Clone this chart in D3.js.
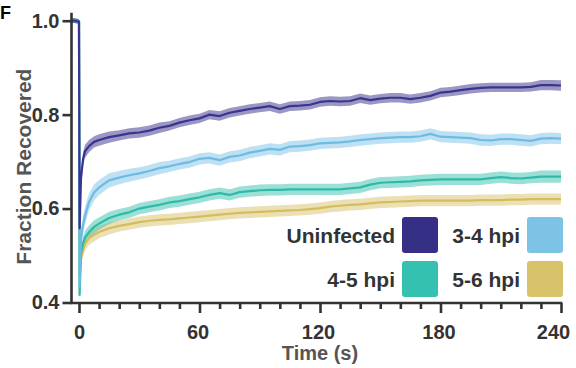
<!DOCTYPE html>
<html>
<head>
<meta charset="utf-8">
<script src="https://cdn.jsdelivr.net/npm/d3@7"></script>
<style>
  html, body { margin: 0; padding: 0; background: #fff; }
  svg { display: block; }
  text { font-family: "Liberation Sans", Arial, Helvetica, sans-serif; font-weight: bold; }
</style>
</head>
<body>
<svg id="chart" width="576" height="368"></svg>
<script>
// ---------- DATA ----------
const seriesNames = ["Uninfected", "3-4 hpi", "4-5 hpi", "5-6 hpi"];
const seriesColors = ["#352f86", "#7cc3e6", "#35c1b0", "#d8c26a"];
const lineColors = ["#3a3490", "#6dbbe2", "#2fbaa8", "#d6bc5c"];

const times = [-4, -2, 0, 0.3, 1, 2, 3, 5, 7.5, 10,
  15, 20, 25, 30, 35, 40, 45, 50, 55, 60,
  65, 70, 75, 80, 85, 90, 95, 100, 105, 110,
  115, 120, 125, 130, 135, 140, 145, 150, 155, 160,
  165, 170, 175, 180, 185, 190, 195, 200, 205, 210,
  215, 220, 225, 230, 235, 240];

const uninfected = [1.0, 1.0, 0.998, 0.558, 0.665, 0.705, 0.722, 0.733, 0.742, 0.746,
  0.752, 0.756, 0.760, 0.762, 0.766, 0.772, 0.776, 0.783, 0.788, 0.792,
  0.800, 0.797, 0.804, 0.808, 0.812, 0.815, 0.818, 0.812, 0.818, 0.819,
  0.821, 0.827, 0.829, 0.828, 0.829, 0.835, 0.831, 0.834, 0.836, 0.836,
  0.833, 0.836, 0.840, 0.847, 0.849, 0.852, 0.855, 0.857, 0.858, 0.858,
  0.858, 0.858, 0.859, 0.863, 0.863, 0.862];

const hpi34 = [1.0, 1.0, 0.998, 0.434, 0.535, 0.565, 0.585, 0.614, 0.634, 0.645,
  0.660, 0.666, 0.671, 0.675, 0.680, 0.686, 0.690, 0.695, 0.699, 0.706,
  0.708, 0.703, 0.710, 0.713, 0.719, 0.723, 0.727, 0.725, 0.732, 0.733,
  0.735, 0.739, 0.740, 0.741, 0.743, 0.746, 0.748, 0.750, 0.751, 0.752,
  0.752, 0.754, 0.759, 0.753, 0.752, 0.751, 0.750, 0.746, 0.745, 0.748,
  0.748, 0.746, 0.744, 0.749, 0.750, 0.749];

const hpi45 = [1.0, 1.0, 0.998, 0.416, 0.505, 0.525, 0.538, 0.550, 0.561, 0.568,
  0.580, 0.587, 0.592, 0.600, 0.604, 0.608, 0.613, 0.616, 0.620, 0.624,
  0.629, 0.633, 0.629, 0.635, 0.637, 0.639, 0.640, 0.640, 0.641, 0.641,
  0.641, 0.641, 0.641, 0.641, 0.643, 0.645, 0.651, 0.655, 0.656, 0.657,
  0.658, 0.660, 0.661, 0.662, 0.662, 0.662, 0.662, 0.662, 0.665, 0.667,
  0.665, 0.664, 0.666, 0.668, 0.668, 0.668];

const hpi56 = [1.0, 1.0, 0.998, 0.460, 0.495, 0.512, 0.525, 0.537, 0.544, 0.550,
  0.558, 0.563, 0.567, 0.571, 0.574, 0.576, 0.577, 0.579, 0.581, 0.583,
  0.585, 0.587, 0.589, 0.591, 0.592, 0.593, 0.594, 0.595, 0.596, 0.597,
  0.599, 0.601, 0.604, 0.606, 0.608, 0.609, 0.611, 0.613, 0.614, 0.615,
  0.616, 0.617, 0.617, 0.617, 0.617, 0.617, 0.617, 0.618, 0.618, 0.618,
  0.619, 0.619, 0.620, 0.620, 0.620, 0.620];

// standard error (half band width)
const semUninfected = [0.005, 0.005, 0.005, 0.012, 0.015, 0.015, 0.014, 0.013, 0.012, 0.012,
  0.012, 0.011, 0.011, 0.011, 0.011, 0.011, 0.010, 0.010, 0.010, 0.010,
  0.010, 0.010, 0.010, 0.010, 0.010, 0.010, 0.010, 0.010, 0.010, 0.010,
  0.010, 0.010, 0.010, 0.010, 0.010, 0.010, 0.010, 0.010, 0.010, 0.010,
  0.010, 0.010, 0.010, 0.010, 0.010, 0.010, 0.010, 0.010, 0.010, 0.010,
  0.010, 0.010, 0.010, 0.011, 0.011, 0.011];
const sem34 = [0.005, 0.005, 0.005, 0.014, 0.019, 0.019, 0.019, 0.018, 0.017, 0.016,
  0.015, 0.014, 0.014, 0.013, 0.013, 0.013, 0.012, 0.012, 0.012, 0.012,
  0.012, 0.012, 0.012, 0.012, 0.012, 0.012, 0.012, 0.012, 0.012, 0.012,
  0.012, 0.012, 0.012, 0.012, 0.012, 0.012, 0.012, 0.012, 0.012, 0.012,
  0.012, 0.012, 0.012, 0.012, 0.012, 0.012, 0.012, 0.012, 0.012, 0.012,
  0.012, 0.012, 0.012, 0.012, 0.012, 0.012];
const sem45 = [0.005, 0.005, 0.005, 0.012, 0.015, 0.015, 0.015, 0.014, 0.014, 0.013,
  0.013, 0.012, 0.012, 0.012, 0.012, 0.012, 0.012, 0.012, 0.012, 0.012,
  0.012, 0.012, 0.012, 0.012, 0.012, 0.012, 0.012, 0.012, 0.012, 0.012,
  0.012, 0.012, 0.012, 0.012, 0.012, 0.012, 0.012, 0.012, 0.012, 0.012,
  0.012, 0.012, 0.012, 0.012, 0.012, 0.012, 0.012, 0.012, 0.012, 0.012,
  0.012, 0.012, 0.012, 0.013, 0.013, 0.013];
const sem56 = [0.005, 0.005, 0.005, 0.012, 0.015, 0.015, 0.015, 0.014, 0.014, 0.013,
  0.013, 0.012, 0.012, 0.012, 0.012, 0.012, 0.012, 0.012, 0.012, 0.012,
  0.012, 0.012, 0.012, 0.012, 0.012, 0.012, 0.012, 0.012, 0.012, 0.012,
  0.012, 0.012, 0.012, 0.012, 0.012, 0.012, 0.012, 0.012, 0.012, 0.012,
  0.012, 0.012, 0.012, 0.012, 0.012, 0.012, 0.012, 0.012, 0.012, 0.012,
  0.012, 0.012, 0.012, 0.012, 0.012, 0.012];

const xTicksMajor = [0, 60, 120, 180, 240];
const xTicksMinor = [0, 10, 20, 30, 40, 50, 60, 70, 80, 90, 100, 110, 120, 130, 140, 150, 160, 170, 180, 190, 200, 210, 220, 230, 240];
const yTicks = [0.4, 0.6, 0.8, 1.0];
const xLabel = "Time (s)";
const yLabel = "Fraction Recovered";
const panelLabel = "F";

// ---------- CHART ----------
const svg = d3.select("#chart");
const x = d3.scaleLinear().domain([0, 240]).range([79, 561]);
const y = d3.scaleLinear().domain([0.4, 1.0]).range([302.5, 20.7]);

const means = [uninfected, hpi34, hpi45, hpi56];
const sems = [semUninfected, sem34, sem45, sem56];
const series = seriesNames.map((name, i) => ({
  name, color: seriesColors[i], lineColor: lineColors[i],
  pts: times.map((t, j) => ({ t, v: means[i][j], e: sems[i][j] }))
}));

const area = d3.area().x(d => x(d.t)).y0(d => y(d.v - d.e)).y1(d => y(d.v + d.e));
const line = d3.line().x(d => x(d.t)).y(d => y(d.v));

const drawOrder = series.slice().reverse();
const gBands = svg.append("g");
drawOrder.forEach(s => {
  gBands.append("path").attr("d", area(s.pts))
    .attr("fill", s.color).attr("fill-opacity", 0.5);
});
const gLines = svg.append("g");
drawOrder.forEach(s => {
  gLines.append("path").attr("d", line(s.pts))
    .attr("fill", "none").attr("stroke", s.lineColor)
    .attr("stroke-width", 2.2).attr("stroke-linejoin", "round");
});

const axisColor = "#333";
const fontFam = "'Liberation Sans', Arial, sans-serif";
// Y axis
const yAxisX = 71.5;
const gy = svg.append("g").attr("transform", `translate(${yAxisX},0)`)
  .call(d3.axisLeft(y).tickValues(yTicks).tickFormat(d3.format(".1f")).tickSize(9).tickPadding(3));
gy.select(".domain").remove();
gy.selectAll(".tick line").attr("stroke", axisColor).attr("stroke-width", 2.6);
gy.selectAll(".tick text").attr("fill", axisColor).style("font-size", "20px")
  .style("font-family", fontFam).style("font-weight", "bold");
svg.append("line").attr("x1", yAxisX).attr("x2", yAxisX)
  .attr("y1", y(1.0) - 8).attr("y2", y(0.4) + 1.3)
  .attr("stroke", axisColor).attr("stroke-width", 2.6);

// X axis
const xAxisY = 303;
const gxMinor = svg.append("g").attr("transform", `translate(0,${xAxisY})`)
  .call(d3.axisBottom(x).tickValues(xTicksMinor.filter(v => !xTicksMajor.includes(v))).tickSize(6).tickFormat(""));
gxMinor.select(".domain").remove();
gxMinor.selectAll(".tick line").attr("stroke", axisColor).attr("stroke-width", 2.6);
const gx = svg.append("g").attr("transform", `translate(0,${xAxisY})`)
  .call(d3.axisBottom(x).tickValues(xTicksMajor).tickSize(10).tickPadding(12).tickFormat(d3.format("d")));
gx.select(".domain").remove();
gx.selectAll(".tick line").attr("stroke", axisColor).attr("stroke-width", 2.6);
gx.selectAll(".tick text").attr("fill", axisColor).style("font-size", "20px")
  .style("font-family", fontFam).style("font-weight", "bold")
  .attr("dx", d => d === 240 ? -8 : (d === 0 ? 0 : -2));
svg.append("line").attr("x1", yAxisX - 1.3).attr("x2", x(240) + 1.3)
  .attr("y1", xAxisY).attr("y2", xAxisY)
  .attr("stroke", axisColor).attr("stroke-width", 2.6);

// Axis titles
svg.append("text").attr("x", x(120)).attr("y", 360)
  .attr("text-anchor", "middle").attr("fill", "#555").style("font-size", "20px").text(xLabel);
svg.append("text").attr("transform", `translate(31,${(y(0.4) + y(1.0)) / 2 + 5}) rotate(-90)`)
  .attr("text-anchor", "middle").attr("fill", "#555").style("font-size", "21px").text(yLabel);

// Panel label
svg.append("text").attr("x", 0).attr("y", 19).attr("fill", "#000")
  .style("font-size", "18px").text(panelLabel);

// Legend
const legendCols = [[402, 395], [527, 520]];
const legendRows = [217, 261];
series.forEach((s, i) => {
  const c = legendCols[i % 2], r = legendRows[Math.floor(i / 2)];
  svg.append("rect").attr("x", c[0]).attr("y", r).attr("width", 36).attr("height", 36)
    .attr("rx", 3).attr("fill", s.color);
  svg.append("text").attr("x", c[1]).attr("y", r + 18).attr("dy", "0.36em")
    .attr("text-anchor", "end").attr("fill", "#333").style("font-size", "21px").text(s.name);
});
</script>
</body>
</html>
